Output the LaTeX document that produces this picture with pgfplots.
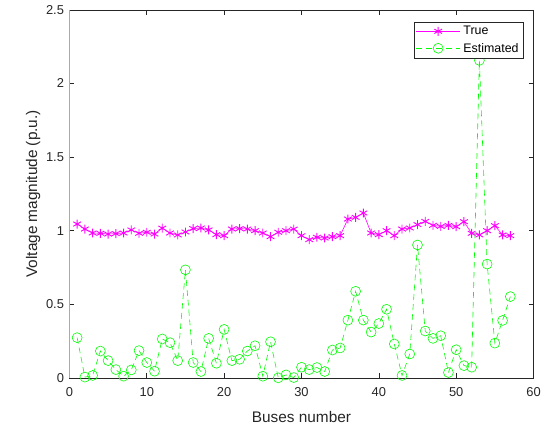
\documentclass[border=0pt]{standalone}
\usepackage{pgfplots}
\pgfplotsset{compat=1.18}
\usepackage{fontspec}
\setmainfont{Liberation Sans}
\definecolor{axgray}{RGB}{38,38,38}
\definecolor{spinegray}{RGB}{170,170,170}
\definecolor{truecol}{RGB}{255,0,255}
\definecolor{estcol}{RGB}{0,255,0}

\begin{document}
\begin{tikzpicture}
\begin{axis}[
  name=ax,
  scale only axis,
  width=468pt, height=371pt,
  xmin=0, xmax=60, ymin=0, ymax=2.5,
  xtick={0,10,...,60},
  ytick={0,0.5,1,1.5,2,2.5},
  yticklabels={0,0.5,1,1.5,2,2.5},
  tick align=inside,
  major tick length=5pt,
  axis line style={axgray, line width=0.6pt},
  tick style={axgray, line width=0.6pt},
  every tick label/.append style={font=\fontsize{13}{15}\selectfont, text=axgray},
  xticklabel style={yshift=-6pt},
  yticklabel style={xshift=-2pt},
  /pgf/number format/assume math mode=true,
  xlabel={Buses number},
  ylabel={Voltage magnitude (p.u.)},
  label style={font=\fontsize{15.5}{17}\selectfont, text=axgray},
  xlabel style={yshift=-8pt},
  ylabel style={yshift=-1pt},
  legend style={at={(0.979,0.968)}, anchor=north east,
    font=\fontsize{12.5}{14}\selectfont, draw=axgray, line width=0.5pt,
    inner xsep=2pt, inner ysep=1pt, row sep=0pt,
    nodes={inner xsep=3pt, inner ysep=3.4pt}},
  legend cell align=left,
  legend image code/.code={
    \draw[mark repeat=2,mark phase=2,#1] plot coordinates {(0cm,0cm) (0.78cm,0cm) (1.56cm,0cm)};
  },
]
\addplot[truecol, line width=0.6pt, mark=asterisk, mark size=4.5pt,
  mark options={solid, line width=0.9pt}]
coordinates {
(1,1.045) (2,1.011) (3,0.984) (4,0.982) (5,0.977) (6,0.980) (7,0.984) (8,1.005)
(9,0.982) (10,0.989) (11,0.977) (12,1.017) (13,0.984) (14,0.971) (15,0.991)
(16,1.014) (17,1.018) (18,1.005) (19,0.973) (20,0.966) (21,1.011) (22,1.014)
(23,1.011) (24,1.000) (25,0.984) (26,0.959) (27,0.989) (28,1.000) (29,1.011)
(30,0.966) (31,0.939) (32,0.955) (33,0.950) (34,0.959) (35,0.966) (36,1.079)
(37,1.090) (38,1.120) (39,0.984) (40,0.973) (41,1.000) (42,0.966) (43,1.011)
(44,1.018) (45,1.041) (46,1.063) (47,1.036) (48,1.029) (49,1.036) (50,1.027)
(51,1.061) (52,0.982) (53,0.971) (54,1.000) (55,1.034) (56,0.971) (57,0.966)
};
\addlegendentry{True}
\addplot[estcol, line width=0.6pt, dash pattern=on 6pt off 4pt, mark=o, mark size=5pt,
  mark options={solid, line width=0.6pt}]
coordinates {
(1,0.273) (2,0.005) (3,0.016) (4,0.182) (5,0.117) (6,0.056) (7,0.011) (8,0.054)
(9,0.185) (10,0.104) (11,0.045) (12,0.264) (13,0.239) (14,0.117) (15,0.734)
(16,0.104) (17,0.043) (18,0.268) (19,0.099) (20,0.329) (21,0.117) (22,0.126)
(23,0.182) (24,0.218) (25,0.011) (26,0.245) (27,0.000) (28,0.020) (29,0.002)
(30,0.072) (31,0.056) (32,0.070) (33,0.043) (34,0.189) (35,0.203) (36,0.392)
(37,0.588) (38,0.392) (39,0.311) (40,0.369) (41,0.466) (42,0.230) (43,0.016)
(44,0.162) (45,0.903) (46,0.318) (47,0.268) (48,0.286) (49,0.036) (50,0.191)
(51,0.083) (52,0.072) (53,2.157) (54,0.773) (55,0.236) (56,0.390) (57,0.552)
};
\addlegendentry{Estimated}
\end{axis}
% left spine is drawn in a lighter grey
\draw[spinegray, line width=1pt] (ax.south west) -- (ax.north west);
\path[use as bounding box] ([xshift=-70pt,yshift=-48pt]ax.south west)
  rectangle ([xshift=6pt,yshift=10pt]ax.north east);
\end{tikzpicture}
\end{document}
